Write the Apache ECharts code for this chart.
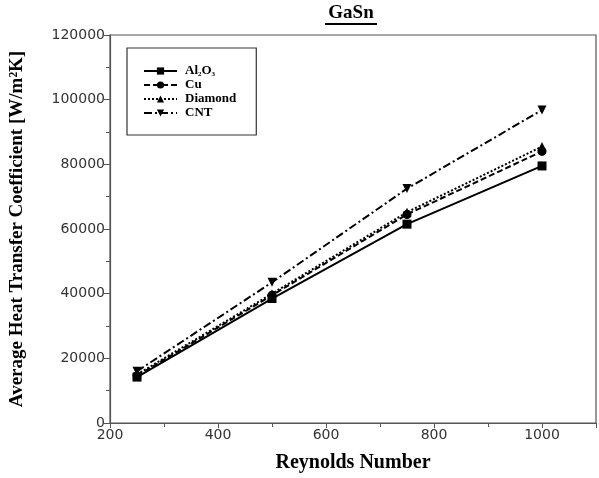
<!DOCTYPE html>
<html><head><meta charset="utf-8">
<script src="https://cdn.jsdelivr.net/npm/echarts@6/dist/echarts.min.js"></script>
<style>html,body{margin:0;padding:0;background:#fff}#c{width:599px;height:478px}</style>
</head><body><div id="c"></div>
<script>
const reynolds = [250, 500, 750, 1000];
const al2o3 = [14200, 38500, 61500, 79500];
const cu = [14600, 39500, 64500, 84000];
const diamond = [15000, 40000, 65200, 85500];
const cnt = [16000, 43500, 72500, 96800];
const seriesNames = ['Al2O3', 'Cu', 'Diamond', 'CNT'];

const chart = echarts.init(document.getElementById('c'));
const serif = 'Liberation Serif';
function mk(name, vals, sym, dash, rot) {
  return {
    name: name, type: 'line',
    data: reynolds.map((r, i) => [r, vals[i]]),
    symbol: sym, symbolSize: 9, symbolRotate: rot || 0,
    lineStyle: {color: '#000', width: 2, type: dash},
    itemStyle: {color: '#000'},
    animation: false
  };
}
chart.setOption({
  animation: false,
  grid: {left: 109, right: 3, top: 35, bottom: 55, show: true, borderColor: '#555', borderWidth: 1.2},
  graphic: [
    {type: 'text', x: 351, y: 4, style: {text: 'GaSn', textAlign: 'center', fontFamily: serif, fontWeight: 'bold', fontSize: 19, fill: '#000'}},
    {type: 'rect', shape: {x: 325, y: 23, width: 52, height: 2}, style: {fill: '#000'}}
  ],
  legend: {
    orient: 'vertical', left: 127, top: 48,
    padding: [16, 20, 15, 16], itemGap: 0, itemWidth: 33, itemHeight: 9,
    borderColor: '#333', borderWidth: 1.2,
    data: seriesNames,
    formatter: function (n) { return n === 'Al2O3' ? '{b|Al}{s|2}{b|O}{s|3}' : '{b|' + n + '}'; },
    textStyle: {
      fontFamily: serif, fontWeight: 'bold', fontSize: 13, color: '#000', lineHeight: 14, padding: [0, 0, 0, 3],
      rich: {
        b: {fontFamily: serif, fontWeight: 'bold', fontSize: 13, color: '#000', lineHeight: 14},
        s: {fontFamily: serif, fontWeight: 'bold', fontSize: 7, color: '#000', verticalAlign: 'bottom', lineHeight: 14, padding: [6, 0, 0, 0]}
      }
    }
  },
  xAxis: {
    type: 'value', min: 200, max: 1100, interval: 200,
    name: 'Reynolds Number', nameLocation: 'middle', nameGap: 30,
    nameTextStyle: {fontFamily: serif, fontWeight: 'bold', fontSize: 20, color: '#000'},
    axisLine: {lineStyle: {color: '#555', width: 1.2}},
    axisTick: {show: true, inside: false, length: 5, lineStyle: {color: '#555'}},
    minorTick: {show: true, splitNumber: 2, length: 4, lineStyle: {color: '#555'}},
    splitLine: {show: false},
    axisLabel: {fontFamily: 'DejaVu Sans', fontSize: 14, color: '#333', margin: 5,
      formatter: v => (v > 1000 ? '' : String(v))}
  },
  yAxis: {
    type: 'value', min: 0, max: 120000, interval: 20000,
    name: 'Average Heat Transfer Coefficient [W/m²K]', nameLocation: 'middle', nameGap: 83,
    nameTextStyle: {fontFamily: serif, fontWeight: 'bold', fontSize: 19, color: '#000'},
    axisLine: {lineStyle: {color: '#555', width: 1.2}},
    axisTick: {show: true, inside: false, length: 6, lineStyle: {color: '#555'}},
    minorTick: {show: true, splitNumber: 2, length: 4, lineStyle: {color: '#555'}},
    splitLine: {show: false},
    axisLabel: {fontFamily: 'DejaVu Sans', fontSize: 14, color: '#333', margin: 5,
      formatter: v => String(v)}
  },
  series: [
    mk('Al2O3', al2o3, 'rect', 'solid'),
    mk('Cu', cu, 'circle', [6, 3]),
    mk('Diamond', diamond, 'triangle', [2, 2]),
    mk('CNT', cnt, 'triangle', [8, 3, 2, 3], 180)
  ]
});
</script></body></html>
